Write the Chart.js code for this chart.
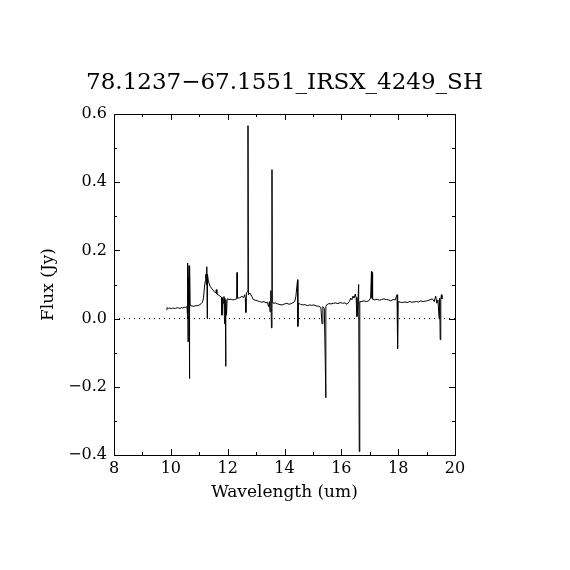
<!DOCTYPE html>
<html>
<head>
<meta charset="utf-8">
<script src="https://cdn.jsdelivr.net/npm/chart.js@4.4.1/dist/chart.umd.min.js"></script>
<style>
  html, body { margin: 0; padding: 0; background: #fff; }
  #wrap { width: 570px; height: 570px; position: relative; }
</style>
</head>
<body>
<div id="wrap"><canvas id="c" width="570" height="570"></canvas></div>
<script>
const chartTitle = "78.1237\u221267.1551_IRSX_4249_SH";
const xAxisTitle = "Wavelength (um)";
const yAxisTitle = "Flux (Jy)";

const xTicks = [8, 10, 12, 14, 16, 18, 20];
const xMinorTicks = [9, 11, 13, 15, 17, 19];
const yTicks = [-0.4, -0.2, 0.0, 0.2, 0.4, 0.6];
const yMinorTicks = [-0.3, -0.1, 0.1, 0.3, 0.5];

const wavelength = [
  9.86, 9.87, 9.92, 9.97, 10.02, 10.07, 10.12, 10.17, 10.22, 10.27, 10.32, 10.37, 10.42, 10.47, 10.52, 10.57,
  10.585, 10.59, 10.595, 10.60, 10.605, 10.61, 10.62, 10.64, 10.65, 10.66, 10.67, 10.68,
  10.75, 10.82, 10.88, 10.95, 11.02, 11.07, 11.11, 11.15, 11.18, 11.21, 11.23, 11.25, 11.26, 11.27, 11.28, 11.29,
  11.32, 11.38, 11.45, 11.52, 11.58, 11.60, 11.62, 11.70, 11.78, 11.80, 11.82, 11.85, 11.87, 11.89, 11.90, 11.92,
  11.93, 11.94, 11.96, 11.98, 12.05, 12.12, 12.18, 12.25, 12.32, 12.33, 12.34, 12.42, 12.50, 12.56, 12.60, 12.62,
  12.64, 12.66, 12.70, 12.715, 12.73, 12.78, 12.85, 12.90, 12.97, 13.05, 13.12, 13.20, 13.28, 13.35, 13.40, 13.44,
  13.47, 13.49, 13.52, 13.54, 13.56, 13.57, 13.60, 13.68, 13.76, 13.84, 13.92, 14.00, 14.08, 14.16, 14.24, 14.30,
  14.36, 14.40, 14.43, 14.46, 14.47, 14.49, 14.56, 14.64, 14.72, 14.80, 14.88, 14.96, 15.04, 15.12, 15.20, 15.28,
  15.32, 15.35, 15.40, 15.43, 15.45, 15.46, 15.48, 15.56, 15.64, 15.72, 15.80, 15.88, 15.96, 16.04, 16.12, 16.20,
  16.28, 16.33, 16.37, 16.41, 16.45, 16.49, 16.52, 16.55, 16.58, 16.61, 16.63, 16.65, 16.72, 16.80, 16.88, 16.96,
  17.03, 17.06, 17.07, 17.09, 17.10, 17.18, 17.26, 17.34, 17.42, 17.50, 17.58, 17.66, 17.74, 17.82, 17.90, 17.96,
  17.98, 18.00, 18.08, 18.16, 18.24, 18.32, 18.40, 18.48, 18.56, 18.64, 18.72, 18.80, 18.88, 18.96, 19.04, 19.12,
  19.20, 19.27, 19.32, 19.36, 19.40, 19.44, 19.46, 19.48, 19.50, 19.52, 19.54, 19.56
];

const flux = [
  0.025, 0.032, 0.030, 0.031, 0.029, 0.031, 0.030, 0.030, 0.032, 0.031, 0.030, 0.032, 0.031, 0.033, 0.033, 0.035,
  0.035, 0.163, 0.000, 0.160, -0.068, 0.120, 0.040, 0.155, 0.050, -0.176, 0.155, 0.038,
  0.037, 0.036, 0.038, 0.038, 0.041, 0.044, 0.048, 0.060, 0.090, 0.110, 0.130, 0.100, 0.145, 0.152, 0.000, 0.130,
  0.110, 0.095, 0.087, 0.080, 0.075, 0.085, 0.072, 0.068, 0.063, 0.010, 0.060, 0.045, 0.065, -0.015, 0.060, 0.020,
  -0.140, 0.055, 0.010, 0.058, 0.056, 0.057, 0.055, 0.056, 0.058, 0.135, 0.060, 0.061, 0.065, 0.062, 0.070, 0.060,
  0.018, 0.075, 0.080, 0.566, 0.070, 0.075, 0.065, 0.056, 0.054, 0.052, 0.050, 0.048, 0.050, 0.046, 0.048, 0.035,
  0.050, 0.020, 0.082, -0.027, 0.437, 0.050, 0.045, 0.046, 0.043, 0.041, 0.040, 0.043, 0.045, 0.042, 0.044, 0.047,
  0.050, 0.065, 0.090, 0.114, -0.023, 0.045, 0.042, 0.040, 0.041, 0.038, 0.040, 0.039, 0.040, 0.037, 0.036, 0.033,
  -0.015, 0.035, 0.030, -0.105, -0.232, 0.035, 0.040, 0.044, 0.043, 0.045, 0.046, 0.044, 0.047, 0.045, 0.046, 0.042,
  0.050, 0.060, 0.055, 0.066, 0.060, 0.072, 0.062, 0.006, 0.040, 0.100, -0.390, 0.050, 0.050, 0.052, 0.050, 0.052,
  0.060, 0.138, 0.060, 0.135, 0.057, 0.055, 0.057, 0.054, 0.056, 0.058, 0.056, 0.055, 0.052, 0.056, 0.055, 0.070,
  -0.088, 0.050, 0.048, 0.047, 0.049, 0.047, 0.050, 0.048, 0.049, 0.050, 0.049, 0.052, 0.050, 0.051, 0.053, 0.055,
  0.058, 0.050, 0.066, 0.045, 0.055, 0.000, 0.060, -0.062, 0.055, 0.070, 0.058, 0.060
];

const spectrum = wavelength.map((w, i) => ({ x: w, y: flux[i] }));
const zeroLine = [{ x: xTicks[0], y: 0 }, { x: xTicks[xTicks.length - 1], y: 0 }];

function fmtY(v) {
  const s = Math.abs(v).toFixed(1);
  return (v < -1e-9 ? "\u2212" : "") + s;
}

const FONT = "'DejaVu Serif', 'Liberation Serif', serif";

const framePlugin = {
  id: 'frame',
  afterDatasetsDraw(chart) {
    const { ctx, chartArea: a, scales } = chart;
    const xs = scales.x, ys = scales.y;
    ctx.save();
    ctx.strokeStyle = '#000';
    ctx.lineWidth = 1;
    ctx.strokeRect(Math.round(a.left) + 0.5, Math.round(a.top) + 0.5,
                   Math.round(a.right - a.left), Math.round(a.bottom - a.top));
    const major = 6, minor = 3;
    ctx.beginPath();
    const xt = (v, len) => {
      const p = Math.round(xs.getPixelForValue(v)) + 0.5;
      ctx.moveTo(p, a.bottom); ctx.lineTo(p, a.bottom - len);
      ctx.moveTo(p, a.top); ctx.lineTo(p, a.top + len);
    };
    const yt = (v, len) => {
      const p = Math.round(ys.getPixelForValue(v)) + 0.5;
      ctx.moveTo(a.left, p); ctx.lineTo(a.left + len, p);
      ctx.moveTo(a.right, p); ctx.lineTo(a.right - len, p);
    };
    xTicks.forEach(v => xt(v, major));
    xMinorTicks.forEach(v => xt(v, minor));
    yTicks.forEach(v => yt(v, major));
    yMinorTicks.forEach(v => yt(v, minor));
    ctx.stroke();

    ctx.fillStyle = '#000';
    ctx.textAlign = 'center';
    ctx.textBaseline = 'alphabetic';
    ctx.font = "23px " + FONT;
    ctx.fillText(chartTitle, (a.left + a.right) / 2, 89);
    ctx.font = "17px " + FONT;
    ctx.fillText(xAxisTitle, (a.left + a.right) / 2, 497);
    ctx.save();
    ctx.translate(53, (a.top + a.bottom) / 2);
    ctx.rotate(-Math.PI / 2);
    ctx.fillText(yAxisTitle, 0, 0);
    ctx.restore();
    ctx.restore();
  }
};

new Chart(document.getElementById('c'), {
  type: 'scatter',
  data: {
    datasets: [
      {
        data: zeroLine,
        showLine: true,
        borderColor: '#000',
        borderWidth: 1,
        borderDash: [1, 4],
        pointRadius: 0,
        order: 2
      },
      {
        data: spectrum,
        showLine: true,
        borderColor: '#000',
        borderWidth: 1,
        pointRadius: 0,
        tension: 0,
        order: 1
      }
    ]
  },
  options: {
    responsive: false,
    animation: false,
    devicePixelRatio: 1,
    layout: { padding: { top: 114, right: 115, left: 0, bottom: 0 } },
    plugins: { legend: { display: false }, tooltip: { enabled: false }, title: { display: false } },
    scales: {
      x: {
        type: 'linear',
        min: 8, max: 20,
        afterFit: s => { s.height = 115; },
        afterBuildTicks: s => { s.ticks = xTicks.map(v => ({ value: v })); },
        ticks: { color: '#000', font: { family: FONT, size: 16 }, padding: 4, maxRotation: 0, autoSkip: false,
                 callback: v => String(v) },
        grid: { display: false, drawTicks: false },
        border: { display: false }
      },
      y: {
        type: 'linear',
        min: -0.4, max: 0.6,
        afterFit: s => { s.width = 114; },
        afterBuildTicks: s => { s.ticks = yTicks.map(v => ({ value: v })); },
        ticks: { color: '#000', font: { family: FONT, size: 16 }, padding: 7, autoSkip: false,
                 callback: v => fmtY(v) },
        grid: { display: false, drawTicks: false },
        border: { display: false }
      }
    }
  },
  plugins: [framePlugin]
});
</script>
</body>
</html>
